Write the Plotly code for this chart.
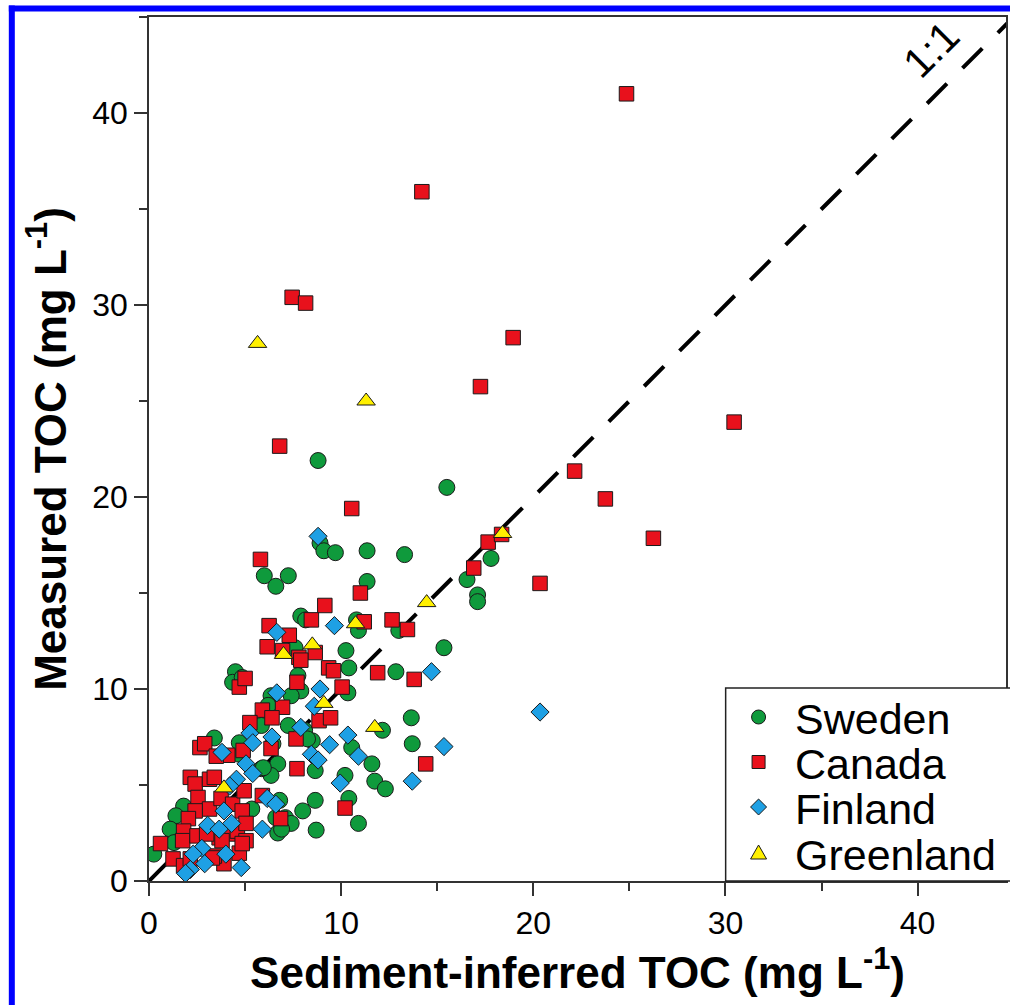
import plotly.graph_objects as go

# ---- data ----
sweden_x = [8.8, 15.5, 8.9, 9.1, 9.7, 11.35, 13.3, 6.0, 6.6, 7.25, 11.35, 16.55, 17.8, 17.1, 17.1,
            7.9, 8.15, 10.8, 10.9, 13.0, 7.6, 10.25, 15.35, 10.4, 12.85, 4.5, 4.35, 4.85, 7.75, 7.9,
            6.35, 7.4, 6.2, 7.25, 8.1, 8.5, 5.85, 6.45, 6.7, 6.35, 5.85, 4.7, 4.7, 3.4, 10.35,
            13.65, 12.15, 13.7, 10.55, 11.6, 11.75, 12.3, 10.2, 10.4, 8.65, 8.0, 10.9, 8.7, 8.25,
            8.65, 7.1, 6.8, 6.7, 7.4, 1.8, 1.4, 1.1, 1.3, 0.25, 5.95, 6.9, 6.6, 5.35]
sweden_y = [21.9, 20.5, 17.6, 17.2, 17.1, 17.2, 17.0, 15.9, 15.35, 15.9, 15.6, 15.7, 16.8, 14.9, 14.55,
            13.8, 13.6, 13.6, 13.05, 13.05, 12.15, 12.0, 12.15, 11.1, 10.9, 10.9, 10.35, 10.6, 10.7, 9.9,
            9.65, 9.65, 9.15, 8.1, 7.85, 7.3, 8.1, 7.15, 6.1, 5.5, 5.85, 6.6, 7.2, 7.45, 9.8,
            8.5, 7.85, 7.15, 6.95, 6.1, 5.2, 4.8, 5.5, 4.3, 4.2, 3.65, 3.0, 2.65, 7.4,
            5.75, 3.3, 4.2, 2.5, 3.0, 3.9, 3.4, 2.7, 2.0, 1.4, 5.9, 2.7, 3.3, 3.75]

canada_x = [24.85, 14.2, 7.45, 8.15, 18.95, 17.25, 30.45, 6.8, 22.15, 23.75, 10.55, 26.25, 17.65, 18.35,
            16.9, 20.35, 12.65, 13.45, 11.9, 13.8, 11.0, 9.15, 5.8, 8.45, 6.25, 7.3, 11.2, 6.15, 6.95,
            7.8, 8.65, 14.4, 10.2, 9.35, 9.6, 10.05, 8.85, 9.45, 7.9, 7.7, 4.7, 5.0, 5.9, 6.95, 6.4,
            5.25, 7.65, 6.35, 2.65, 2.9, 4.9, 4.1, 7.7, 5.9, 6.85, 2.15, 2.4, 3.15, 3.4, 2.55, 3.15,
            2.4, 2.05, 1.8, 1.75, 1.25, 1.8, 2.5, 3.65, 4.2, 4.6, 5.05, 4.7, 3.9, 3.4, 3.75, 4.35,
            4.85, 4.95, 5.05, 3.5, 0.6, 2.15, 3.3, 4.85, 3.8, 3.0]
canada_y = [41.0, 35.9, 30.4, 30.1, 28.3, 25.75, 23.9, 22.65, 21.35, 19.9, 19.4, 17.85, 17.65, 18.05,
            16.3, 15.5, 13.6, 13.1, 10.85, 10.5, 15.0, 14.35, 16.75, 13.6, 13.3, 12.8, 13.5, 12.2, 12.0,
            11.65, 11.9, 6.1, 3.8, 11.1, 10.95, 10.1, 8.35, 8.5, 11.5, 10.35, 10.1, 10.55, 8.9, 9.05, 8.5,
            8.25, 7.4, 6.9, 6.95, 7.15, 6.8, 6.55, 5.85, 4.45, 3.25, 5.4, 5.05, 5.3, 5.4, 4.35, 3.75,
            3.65, 3.25, 2.6, 2.1, 1.15, 0.8, 2.35, 2.25, 2.45, 2.6, 2.1, 1.45, 0.9, 1.3, 4.3, 4.0,
            3.65, 4.7, 3.0, 6.5, 1.95, 1.15, 1.2, 1.95, 2.1, 2.45]

finland_x = [8.8, 9.65, 6.65, 14.7, 15.35, 20.35, 13.7, 8.9, 8.6, 7.9, 9.4, 10.35, 8.45, 8.8, 10.9,
             9.95, 6.65, 6.4, 5.25, 5.4, 3.8, 5.05, 5.4, 4.55, 4.2, 6.15, 6.6, 3.9, 3.05, 3.65, 4.3,
             5.9, 2.75, 2.3, 4.0, 2.15, 2.9, 4.8, 1.9]
finland_y = [17.95, 13.3, 12.95, 10.9, 7.0, 8.8, 5.2, 10.0, 9.1, 8.0, 7.1, 7.6, 6.6, 6.3, 6.5,
             5.1, 9.8, 7.5, 7.7, 7.2, 6.7, 6.1, 5.6, 5.3, 4.95, 4.3, 4.0, 3.65, 2.9, 2.7, 3.0,
             2.7, 1.7, 1.4, 1.4, 0.6, 0.9, 0.7, 0.4]

greenland_x = [5.65, 11.3, 18.4, 14.45, 10.75, 8.5, 7.0, 9.1, 11.75, 3.9]
greenland_y = [28.0, 25.0, 18.1, 14.5, 13.4, 12.3, 11.8, 9.25, 8.0, 4.85]

country_names = ["Sweden", "Canada", "Finland", "Greenland"]
one_to_one = [0, 45]
x_range = [0, 44.6]
y_range = [0, 45]

FONT = "Liberation Sans, Arial, sans-serif"

# ---- figure ----
fig = go.Figure()
fig.add_trace(go.Scatter(x=one_to_one, y=one_to_one, mode="lines", showlegend=False,
                         line=dict(color="black", width=4, dash="28px,22px"), hoverinfo="skip"))

outline = dict(color="#1a1a1a", width=1)
styles = {
    "Sweden": ("circle", "#0f9a3c", 16),
    "Canada": ("square", "#e8111c", 14.5),
    "Finland": ("diamond", "#1ea0e4", 14),
    "Greenland": ("triangle-up", "#fff000", 16),
}
data = {
    "Sweden": (sweden_x, sweden_y),
    "Canada": (canada_x, canada_y),
    "Finland": (finland_x, finland_y),
    "Greenland": (greenland_x, greenland_y),
}
for name in country_names:
    sym, col, sz = styles[name]
    xs, ys = data[name]
    fig.add_trace(go.Scatter(x=xs, y=ys, mode="markers", name=name, showlegend=False,
                             marker=dict(symbol=sym, color=col, size=sz, line=outline)))

fig.add_annotation(x=40.7, y=43.3, text="1:1", showarrow=False, textangle=-45,
                   font=dict(family=FONT, size=42, color="black"))

axis_common = dict(showline=True, linecolor="#333333", linewidth=1.5, mirror=True,
                   ticks="outside", ticklen=13, tickwidth=1.5, tickcolor="#333333",
                   dtick=10, tick0=0, showgrid=False, zeroline=False,
                   tickfont=dict(family=FONT, size=32, color="black"),
                   minor=dict(dtick=5, ticks="outside", ticklen=8, tickwidth=1.5, tickcolor="#333333"))

fig.update_xaxes(range=x_range, **axis_common,
                 title=dict(text="Sediment-inferred TOC (mg L<sup>-1</sup>)", standoff=14,
                            font=dict(family=FONT, size=44, color="black", weight="bold")))
fig.update_yaxes(range=y_range, **axis_common,
                 title=dict(text="Measured TOC (mg L<sup>-1</sup>)", standoff=12,
                            font=dict(family=FONT, size=44, color="black", weight="bold")))

L, R, T, B = 149, 2, 17, 124
W, H = 1010, 1005
pw, ph = W - L - R, H - T - B
def px_to_paper_x(p):
    return (p - L) / pw
def px_to_paper_y(p):
    return (H - B - p) / ph

# blue frame around the figure (right/bottom edges outside the picture)
fig.add_shape(type="line", xref="paper", yref="paper",
              x0=px_to_paper_x(11.5), x1=px_to_paper_x(11.5), y0=px_to_paper_y(1100), y1=px_to_paper_y(5.5),
              line=dict(color="#0000ff", width=6))
fig.add_shape(type="line", xref="paper", yref="paper",
              x0=px_to_paper_x(8.5), x1=px_to_paper_x(1100), y0=px_to_paper_y(8.5), y1=px_to_paper_y(8.5),
              line=dict(color="#0000ff", width=6))

# legend box (drawn by hand, extends past the right edge like the reference)
fig.add_shape(type="rect", xref="paper", yref="paper", layer="above",
              x0=px_to_paper_x(727), x1=px_to_paper_x(1060), y0=0, y1=px_to_paper_y(688),
              fillcolor="white", line=dict(color="#222222", width=1.5))
legend_rows_px = [717, 762, 807, 853]
legend_paths = {
    "circle": None,
    "square": "M -6.5,-6.5 L 6.5,-6.5 L 6.5,6.5 L -6.5,6.5 Z",
    "diamond": "M -8,0 L 0,8 L 8,0 L 0,-8 Z",
    "triangle-up": "M -8,-6 L 8,-6 L 0,8 Z",
}
for name, rowy in zip(country_names, legend_rows_px):
    sym, col, sz = styles[name]
    common = dict(xref="paper", yref="paper", xsizemode="pixel", ysizemode="pixel",
                  xanchor=px_to_paper_x(760), yanchor=px_to_paper_y(rowy), layer="above",
                  fillcolor=col, line=dict(color="#1a1a1a", width=1))
    if sym == "circle":
        fig.add_shape(type="circle", x0=-7, x1=7, y0=-7, y1=7, **common)
    else:
        fig.add_shape(type="path", path=legend_paths[sym], **common)
    fig.add_annotation(xref="paper", yref="paper", x=px_to_paper_x(795), y=px_to_paper_y(rowy + 2),
                       xanchor="left", yanchor="middle", text=name, showarrow=False,
                       font=dict(family=FONT, size=43, color="black"))

fig.update_layout(
    width=W, height=H, margin=dict(l=L, r=R, t=T, b=B),
    plot_bgcolor="white", paper_bgcolor="white", showlegend=False,
)

fig.write_html("out.html", config={"displayModeBar": False},
               post_script="document.body.style.margin='0';")
